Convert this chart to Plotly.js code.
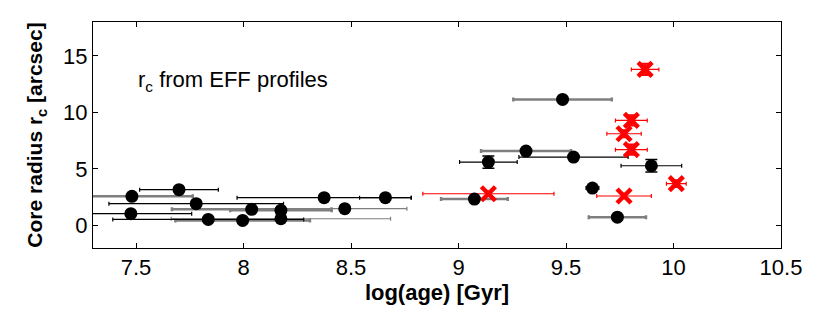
<!DOCTYPE html>
<html>
<head>
<meta charset="utf-8">
<script src="https://cdn.plot.ly/plotly-3.0.1.min.js"></script>
<style>
  html, body { margin: 0; padding: 0; background: #fff; }
  #plot { width: 830px; height: 331px; }
</style>
</head>
<body>
<div id="plot"></div>
<script>
// black circles, thin black error bars
const blackThinAge = [7.70, 7.78, 7.476, 7.836, 8.375, 8.66, 9.535, 9.139, 9.897, 9.623];
const blackThinRc = [3.16, 1.92, 1.04, 0.53, 2.45, 2.45, 6.05, 5.60, 5.28, 3.30];
const blackThinErrAge = [0.183, 0.406, 0.283, 0.444, 0.405, 0.12, 0.254, 0.134, 0.141, 0.03];
const blackThinErrRc = [0, 0, 0, 0, 0, 0, 0, 0.55, 0.55, 0];

// black circles, thick grey error bars
const greyThickAge = [7.481, 7.996, 8.038, 8.174, 9.484, 9.314, 9.074, 9.739];
const greyThickRc = [2.57, 0.44, 1.42, 1.33, 11.15, 6.58, 2.33, 0.73];
const greyThickErrAge = [0.283, 0.313, 0.371, 0.236, 0.229, 0.209, 0.155, 0.133];

// black circles, thin grey error bars
const greyThinAge = [8.174, 8.471];
const greyThinRc = [0.59, 1.48];
const greyThinErrAge = [0.51, 0.289];

// red crosses
const redAge = [9.868, 9.804, 9.770, 9.804, 10.013, 9.770, 9.139];
const redRc = [13.8, 9.29, 8.11, 6.70, 3.69, 2.60, 2.80];
const redErrAge = [0.064, 0.074, 0.080, 0.074, 0.046, 0.127, 0.305];
const redErrRc = [0.5, 0.45, 0.3, 0.45, 0.3, 0.2, 0.2];

const fontName = '"Liberation Sans", Arial, Helvetica, sans-serif';

function barTrace(x, y, ex, color, thick, ey) {
  const t = {
    x: x, y: y, type: 'scatter', mode: 'markers',
    marker: { size: 1, opacity: 0 },
    error_x: { type: 'data', array: ex, visible: true, color: color, thickness: thick, width: 2 },
    hoverinfo: 'skip', showlegend: false
  };
  if (ey) {
    t.error_y = { type: 'data', array: ey, visible: true, color: '#000', thickness: 1.5, width: 6 };
  }
  return t;
}

const allCircAge = blackThinAge.concat(greyThickAge, greyThinAge);
const allCircRc = blackThinRc.concat(greyThickRc, greyThinRc);

const data = [
  barTrace(greyThickAge, greyThickRc, greyThickErrAge, '#7f7f7f', 2.5),
  barTrace(greyThinAge, greyThinRc, greyThinErrAge, '#7f7f7f', 1.2),
  barTrace(blackThinAge, blackThinRc, blackThinErrAge, '#000', 1.2, blackThinErrRc),
  {
    x: redAge, y: redRc, type: 'scatter', mode: 'markers',
    marker: { symbol: 'x-thin-open', size: 14, color: '#ff0000', line: { color: '#ff0000', width: 4.5 } },
    error_x: { type: 'data', array: redErrAge, visible: true, color: '#ff0000', thickness: 1.2, width: 2 },
    error_y: { type: 'data', array: redErrRc, visible: true, color: '#ff0000', thickness: 2, width: 4 },
    showlegend: false
  },
  {
    x: allCircAge, y: allCircRc, type: 'scatter', mode: 'markers',
    marker: { symbol: 'circle', size: 13, color: '#000' },
    showlegend: false
  }
];

const layout = {
  width: 830, height: 331,
  margin: { l: 93, r: 49, t: 22, b: 83 },
  paper_bgcolor: '#fff', plot_bgcolor: '#fff',
  font: { family: fontName, size: 22, color: '#000' },
  showlegend: false,
  xaxis: {
    range: [7.3, 10.5], dtick: 0.5, tick0: 7.5,
    ticks: 'inside', ticklen: 5, tickcolor: '#000', mirror: 'ticks',
    showline: true, linecolor: '#000', linewidth: 1,
    showgrid: false, zeroline: false,
    title: { text: '<b>log(age) [Gyr]</b>', font: { size: 22 }, standoff: 5 }
  },
  yaxis: {
    range: [-2, 18], dtick: 5, tick0: 0,
    ticks: 'inside', ticklen: 5, tickcolor: '#000', mirror: 'ticks',
    showline: true, linecolor: '#000', linewidth: 1,
    showgrid: false, zeroline: false,
    title: { text: '<b>Core radius r<sub>c</sub> [arcsec]</b>', font: { size: 21 }, standoff: 14 }
  },
  annotations: [{
    x: 7.5, y: 12.8, xref: 'x', yref: 'y', xanchor: 'left', yanchor: 'middle',
    text: 'r<sub>c</sub> from EFF profiles', showarrow: false,
    font: { size: 22, color: '#000' }
  }]
};

Plotly.newPlot('plot', data, layout, { displayModeBar: false, staticPlot: true });
</script>
</body>
</html>
